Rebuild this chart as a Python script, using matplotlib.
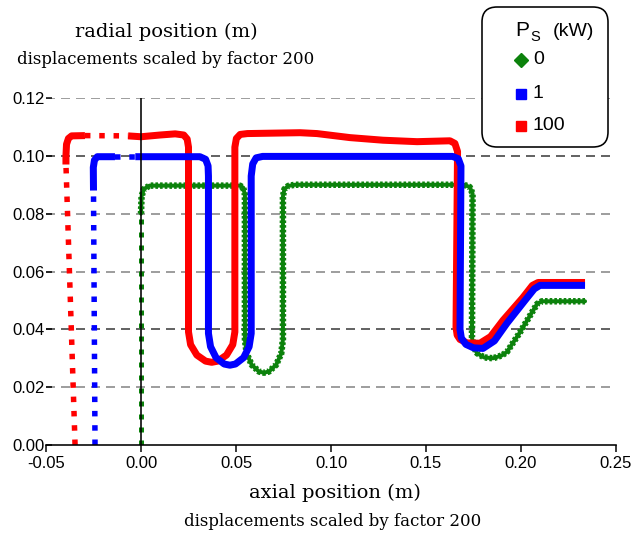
import matplotlib
matplotlib.use('Agg')
import matplotlib.pyplot as plt
from matplotlib.patches import FancyBboxPatch
from matplotlib.lines import Line2D

plt.rcParams['font.family'] = ['Liberation Sans', 'DejaVu Sans']
plt.rcParams['axes.unicode_minus'] = False

# values (metres, displacements scaled by 200)
x_ticks = [-0.05, 0.0, 0.05, 0.10, 0.15, 0.20, 0.25]
y_ticks = [0.0, 0.02, 0.04, 0.06, 0.08, 0.10, 0.12]
labels = ['0', '1', '100']

# profile outlines, P_S = 0 kW
green_x = [0.0000, 0.0000, 0.0003, 0.0015, 0.0045, 0.0520, 0.0538, 0.0547,
           0.0547, 0.0556, 0.0583, 0.0621, 0.0647, 0.0673, 0.0711, 0.0738,
           0.0747, 0.0747, 0.0755, 0.0775, 0.0810, 0.1700, 0.1730, 0.1745,
           0.1742, 0.1750, 0.1768, 0.1805, 0.1853, 0.1900, 0.1926, 0.1995,
           0.2058, 0.2085, 0.2110, 0.2337]
green_y = [0.0000, 0.0800, 0.0860, 0.0885, 0.0897, 0.0897, 0.0890, 0.0865,
           0.0365, 0.0316, 0.0277, 0.0254, 0.0250, 0.0254, 0.0277, 0.0316,
           0.0365, 0.0860, 0.0885, 0.0896, 0.0900, 0.0900, 0.0892, 0.0870,
           0.0372, 0.0340, 0.0318, 0.0303, 0.0300, 0.0310, 0.0322, 0.0390,
           0.0459, 0.0488, 0.0497, 0.0497]

# P_S = 1 kW
blue_x = [-0.0242, -0.0250, -0.0251, -0.0245, -0.0230, -0.0137, -0.0030,
          0.0310, 0.0340, 0.0353, 0.0355, 0.0355, 0.0366, 0.0395, 0.0438,
          0.0468, 0.0497, 0.0540, 0.0569, 0.0580, 0.0580, 0.0588, 0.0606,
          0.0640, 0.1640, 0.1670, 0.1684, 0.1679, 0.1686, 0.1710, 0.1750,
          0.1800, 0.1860, 0.1926, 0.2021, 0.2070, 0.2100, 0.2337]
blue_y = [0.0000, 0.0880, 0.0960, 0.0985, 0.0997, 0.0997, 0.0997, 0.0997,
          0.0988, 0.0965, 0.0930, 0.0386, 0.0340, 0.0302, 0.0280, 0.0276,
          0.0280, 0.0302, 0.0340, 0.0386, 0.0930, 0.0972, 0.0993, 0.0998,
          0.0998, 0.0990, 0.0965, 0.0400, 0.0370, 0.0348, 0.0336, 0.0334,
          0.0360, 0.0421, 0.0500, 0.0540, 0.0552, 0.0552]

# P_S = 100 kW
red_x = [-0.0347, -0.0395, -0.0395, -0.0392, -0.0382, -0.0365, -0.0295,
         -0.0068, 0.0000, 0.0100, 0.0180, 0.0225, 0.0243, 0.0250, 0.0250,
         0.0261, 0.0294, 0.0340, 0.0372, 0.0404, 0.0450, 0.0483, 0.0494,
         0.0494, 0.0502, 0.0522, 0.0560, 0.0837, 0.0926, 0.1100, 0.1274,
         0.1453, 0.1626, 0.1652, 0.1666, 0.1658, 0.1664, 0.1679, 0.1716,
         0.1784, 0.1840, 0.1905, 0.2010, 0.2060, 0.2090, 0.2337]
red_y = [0.0000, 0.0970, 0.1000, 0.1040, 0.1060, 0.1069, 0.1070, 0.1069,
         0.1066, 0.1072, 0.1076, 0.1072, 0.1058, 0.1030, 0.0391, 0.0347,
         0.0311, 0.0290, 0.0286, 0.0290, 0.0311, 0.0347, 0.0391, 0.1030,
         0.1060, 0.1074, 0.1077, 0.1080, 0.1077, 0.1063, 0.1054, 0.1049,
         0.1052, 0.1043, 0.1015, 0.0407, 0.0380, 0.0365, 0.0353, 0.0352,
         0.0375, 0.0431, 0.0510, 0.0552, 0.0562, 0.0562]

# stretches (vertex index ranges) where the mesh points are sparse
green_sparse = [(0, 1)]
blue_sparse = [(0, 1), (5, 6)]
red_sparse = [(0, 1), (6, 7)]

GREEN = '#0c820c'
BLUE = '#0000ff'
RED = '#ff0000'

W, H = 634, 534


def pt(p):
    # pixels -> points
    return p * 72 / 100


def inch(xp, yp):
    # pixel position (from top-left) -> inches for dpi_scale_trans
    return xp / 100, (H - yp) / 100


def pieces(n, sparse):
    # split vertex indices 0..n-1 into dense and sparse runs
    dense, cur = [], 0
    for a, b in sparse:
        if a > cur:
            dense.append((cur, a))
        cur = b
    if cur < n - 1:
        dense.append((cur, n - 1))
    return dense, sparse


def draw_profile(xs, ys, sparse, color, z, chain=False):
    dense, sp = pieces(len(xs), sparse)
    for a, b in sp:
        ax.plot(xs[a:b + 1], ys[a:b + 1], color=color,
                lw=pt(5 if chain else 5.5), ls=(0, (1, 1.6)),
                dash_capstyle='butt', zorder=z)
    for a, b in dense:
        sx, sy = xs[a:b + 1], ys[a:b + 1]
        if chain:
            ax.plot(sx, sy, color=color, lw=pt(4), solid_joinstyle='round',
                    solid_capstyle='round', zorder=z)
            ax.plot(sx, sy, color=color, lw=pt(6.5), ls=(0, (0.4, 0.32)),
                    dash_capstyle='butt', zorder=z)
        else:
            ax.plot(sx, sy, color=color, lw=pt(7), solid_joinstyle='round',
                    solid_capstyle='butt', zorder=z)


fig = plt.figure(figsize=(W / 100, H / 100), dpi=100)
ax = fig.add_axes([46 / W, 1 - 445 / H, 570 / W, 347 / H])
ax.set_xlim(-0.05, 0.25)
ax.set_ylim(0, 0.12)

# dashed grid (two of the lines come out darker in the original)
grid_cols = ['#808080', '#333333', '#808080', '#808080', '#333333', '#808080']
for t, c in zip(y_ticks[1:], grid_cols):
    ax.axhline(t, color=c, lw=pt(1.5), ls=(0, (6, 4)), zorder=1)

# profiles: green below, red, blue on top
draw_profile(green_x, green_y, green_sparse, GREEN, 3, chain=True)
draw_profile(red_x, red_y, red_sparse, RED, 4)
draw_profile(blue_x, blue_y, blue_sparse, BLUE, 5)

# y axis drawn at x = 0
ax.plot([0, 0], [0, 0.12], color='black', lw=pt(1.6), zorder=10)

for s in ['top', 'right', 'left']:
    ax.spines[s].set_visible(False)
ax.spines['bottom'].set_linewidth(pt(1.6))
ax.spines['bottom'].set_zorder(10)

ax.set_xticks(x_ticks)
ax.set_xticklabels([f'{t:.2f}' for t in x_ticks])
ax.set_yticks(y_ticks)
ax.set_yticklabels([f'{t:.2f}' for t in y_ticks])
ax.tick_params(axis='x', direction='out', length=5, width=pt(1.5), labelsize=12, pad=3)
ax.tick_params(axis='y', direction='in', length=4, width=pt(1.5), labelsize=12, pad=1)

# axis titles
serif = 'DejaVu Serif'
fig.text(166 / W, 1 - 32 / H, 'radial position (m)', ha='center', va='center',
         family=serif, size=14)
fig.text(166 / W, 1 - 60 / H, 'displacements scaled by factor 200', ha='center',
         va='center', family=serif, size=12)
fig.text(335 / W, 1 - 493 / H, 'axial position (m)', ha='center', va='center',
         family=serif, size=14)
fig.text(333 / W, 1 - 521 / H, 'displacements scaled by factor 200', ha='center',
         va='center', family=serif, size=12)

# legend box
x0, y0 = inch(482, 147)
box = FancyBboxPatch((x0, y0), 1.26, 1.40, boxstyle='round,pad=0,rounding_size=0.15',
                     transform=fig.dpi_scale_trans, fc='white', ec='black', lw=pt(1.6))
fig.add_artist(box)
tx, ty = inch(515, 31)
fig.text(tx, ty, 'P', transform=fig.dpi_scale_trans, size=15, va='center')
tx, ty = inch(530, 37)
fig.text(tx, ty, 'S', transform=fig.dpi_scale_trans, size=10.5, va='center')
tx, ty = inch(553, 31)
fig.text(tx, ty, '(kW)', transform=fig.dpi_scale_trans, size=14, va='center')

for lab, col, mk, yp in zip(labels, [GREEN, BLUE, RED], ['D', 's', 's'], [60, 94, 126]):
    mx, my = inch(521, yp)
    fig.add_artist(Line2D([mx], [my], marker=mk, ms=7, color=col, mec=col, ls='none',
                          transform=fig.dpi_scale_trans))
    lx, ly = inch(533, yp)
    fig.text(lx, ly, lab, transform=fig.dpi_scale_trans, size=14, va='center')

fig.savefig('out.png', dpi=100, facecolor='white')
